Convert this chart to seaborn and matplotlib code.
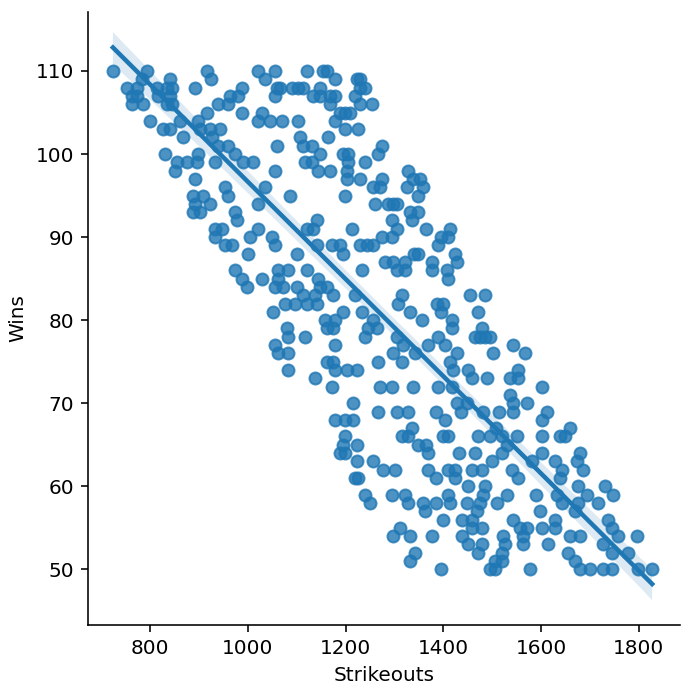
import matplotlib
matplotlib.use("Agg")
import matplotlib.pyplot as plt
import seaborn as sns
import pandas as pd

# (Strikeouts, Wins) pairs, grouped by region
strikeouts_a = [724, 794, 917, 925, 892, 753, 773, 784, 814, 835, 841, 845, 763, 773, 816, 841,
                763, 786, 835, 845, 800, 827, 841, 861, 868, 898, 902, 917, 923, 943, 927, 939,
                959, 964, 980, 988, 988, 959, 939, 933, 974, 990, 898, 896, 876, 855, 851, 831,
                892, 954, 959, 888, 908, 923, 892, 974,
                888, 902, 978, 933, 947, 933, 954, 968, 1004, 1000, 974, 988, 998]
wins_a = [110, 110, 110, 109, 108, 108, 108, 109, 108, 108, 109, 108, 107, 107, 107, 107,
          106, 106, 106, 106, 104, 103, 103, 104, 102, 104, 103, 105, 103, 103, 102, 106,
          106, 107, 107, 105, 108, 101, 101, 99, 100, 99, 100, 99, 99, 99, 98, 100,
          97, 96, 95, 95, 95, 94, 94, 93,
          93, 93, 92, 91, 91, 90, 89, 89, 90, 88, 86, 85, 84]

strikeouts_b = [1020, 1055, 1120, 1154, 1162, 1035, 1178, 1223, 1229, 1059, 1066, 1090, 1103, 1113,
                1147, 1229, 1240, 1055, 1133, 1147, 1168, 1178, 1219, 1168, 1229, 1254, 1188, 1199,
                1209, 1029, 1021, 1045, 1070, 1103, 1178, 1199, 1225, 1107, 1164, 1113, 1131, 1059,
                1274, 1147, 1194, 1205, 1266, 1010, 1117, 1131, 1205, 1240, 1055, 1143, 1168, 1203,
                1203, 1229, 1274, 1035, 1086, 1199, 1256, 1270, 1260, 1286, 1297,
                1328, 1338, 1352, 1326, 1358, 1348, 1305, 1331, 1348]
wins_b = [110, 110, 110, 110, 110, 109, 109, 109, 109, 108, 108, 108, 108, 108,
          108, 108, 108, 107, 107, 107, 107, 107, 107, 106, 106, 106, 105, 105,
          105, 105, 104, 104, 104, 104, 104, 103, 103, 102, 102, 101, 101, 101,
          101, 100, 100, 100, 100, 99, 99, 99, 99, 99, 98, 98, 98, 98,
          97, 97, 97, 96, 95, 95, 96, 96, 94, 94, 94,
          98, 97, 97, 96, 96, 95, 94, 93, 93]

strikeouts_c = [1021, 1141, 1121, 1133, 1021, 1213, 1295, 1049, 1055, 1101, 1141, 1172, 1188,
                1194, 1229, 1244, 1256, 1274, 1295, 1280, 1297, 1062, 1082, 1121, 1143, 1233,
                1029, 1062, 1055, 1072, 1101, 1147, 1162, 1113, 1137, 1076, 1096, 1121, 1141,
                1174, 1219, 1051, 1194, 1233, 1158, 1178, 1256, 1080, 1162, 1174, 1246, 1264,
                1082, 1117, 1240, 1055, 1178, 1082, 1062, 1297]
wins_c = [94, 92, 91, 91, 91, 91, 92, 90, 89, 88, 89, 89, 89,
          88, 89, 89, 89, 90, 90, 87, 87, 86, 86, 86, 85, 86,
          85, 85, 84, 84, 84, 84, 84, 83, 83, 82, 82, 82, 82,
          83, 83, 81, 81, 81, 80, 80, 80, 79, 79, 79, 79, 79,
          78, 78, 78, 77, 77, 76, 76, 76]

strikeouts_d = [1082, 1137, 1162, 1174, 1178, 1203, 1223, 1172, 1215, 1266, 1270, 1295, 1266,
                1178, 1199, 1215, 1199, 1194, 1223, 1188, 1199, 1223, 1256, 1276, 1219, 1225,
                1240, 1250, 1295, 1297]
wins_d = [74, 73, 75, 75, 74, 74, 74, 72, 70, 75, 72, 72, 69,
          68, 68, 68, 66, 65, 65, 64, 64, 63, 63, 62, 61, 61,
          59, 58, 59, 54]

strikeouts_e = [1335, 1305, 1364, 1413, 1396, 1409, 1388, 1423, 1427, 1339, 1348, 1321, 1305,
                1321, 1376, 1376, 1407, 1409, 1454, 1485, 1315, 1307, 1387, 1399, 1396, 1331,
                1470, 1356, 1417, 1417, 1479, 1464, 1474, 1485, 1495, 1388, 1305, 1317, 1368,
                1403, 1542, 1501, 1567, 1341, 1427]
wins_e = [92, 91, 91, 91, 90, 90, 89, 88, 87, 88, 88, 87, 86,
          86, 87, 86, 86, 85, 83, 83, 83, 82, 82, 82, 81, 81,
          81, 80, 80, 79, 79, 78, 78, 78, 78, 78, 78, 77, 77,
          77, 77, 76, 76, 76, 76]

strikeouts_f = [1315, 1413, 1419, 1450, 1552, 1458, 1489, 1536, 1552, 1388, 1417, 1338, 1601,
                1536, 1542, 1570, 1427, 1448, 1305, 1328, 1384, 1437, 1481, 1513, 1542, 1601,
                1403, 1335, 1507, 1315, 1328, 1399, 1409, 1470, 1495, 1519, 1550, 1601, 1348,
                1364, 1530, 1368, 1431, 1464, 1519, 1601, 1581, 1499, 1368, 1409, 1423, 1458,
                1479, 1540, 1301, 1384, 1423, 1552, 1450, 1485, 1321, 1409, 1481, 1530, 1589,
                1358, 1384, 1413, 1448, 1474, 1509, 1327]
wins_f = [75, 75, 74, 74, 74, 73, 73, 73, 73, 72, 72, 72, 72,
          71, 70, 70, 70, 70, 69, 69, 69, 69, 69, 69, 69, 68,
          68, 67, 67, 66, 66, 66, 66, 66, 66, 66, 66, 66, 65,
          65, 65, 64, 64, 64, 64, 64, 63, 63, 62, 62, 62, 62,
          62, 62, 62, 61, 61, 61, 60, 60, 59, 59, 59, 59, 59,
          58, 58, 58, 58, 58, 58, 58]

strikeouts_g = [1612, 1659, 1639, 1649, 1628, 1679, 1673, 1686, 1643, 1639, 1675, 1730, 1747,
                1694, 1632, 1643, 1675, 1716,
                1669, 1628, 1737, 1745, 1628, 1614, 1659, 1679, 1757, 1796, 1726, 1655, 1745,
                1778, 1669, 1679, 1700, 1726, 1745, 1798, 1827]
wins_g = [69, 67, 66, 66, 63, 64, 63, 62, 62, 61, 60, 60, 59,
          59, 59, 58, 58, 58,
          57, 56, 56, 55, 55, 53, 54, 54, 54, 54, 53, 52, 52,
          52, 51, 50, 50, 50, 50, 50, 50]

strikeouts_h = [1362, 1399, 1438, 1458, 1468, 1542, 1597, 1311, 1331, 1376, 1438, 1458, 1479,
                1556, 1572, 1601, 1562, 1521, 1450, 1479, 1525, 1562, 1341, 1470, 1519, 1331,
                1505, 1519, 1396, 1495, 1505, 1577]
wins_h = [57, 56, 56, 56, 57, 56, 57, 55, 54, 54, 54, 55, 55,
          55, 55, 55, 54, 54, 53, 53, 53, 53, 52, 52, 52, 51,
          51, 51, 50, 50, 50, 50]

strikeouts = (strikeouts_a + strikeouts_b + strikeouts_c + strikeouts_d +
              strikeouts_e + strikeouts_f + strikeouts_g + strikeouts_h)
wins = wins_a + wins_b + wins_c + wins_d + wins_e + wins_f + wins_g + wins_h

df = pd.DataFrame({"Strikeouts": strikeouts, "Wins": wins})

DPI = 144
g = sns.lmplot(data=df, x="Strikeouts", y="Wins", height=5)
fig = g.figure
fig.set_size_inches(694 / DPI, 698 / DPI)
fig.subplots_adjust(left=88 / 694, right=680 / 694, bottom=1 - 625 / 698, top=1 - 12 / 698)
ax = g.ax
ax.set_xlim(673, 1884)
ax.set_ylim(43.3, 117.1)
ax.set_xticks([800, 1000, 1200, 1400, 1600, 1800])
ax.set_yticks([50, 60, 70, 80, 90, 100, 110])
fig.savefig("out.png", dpi=DPI)
